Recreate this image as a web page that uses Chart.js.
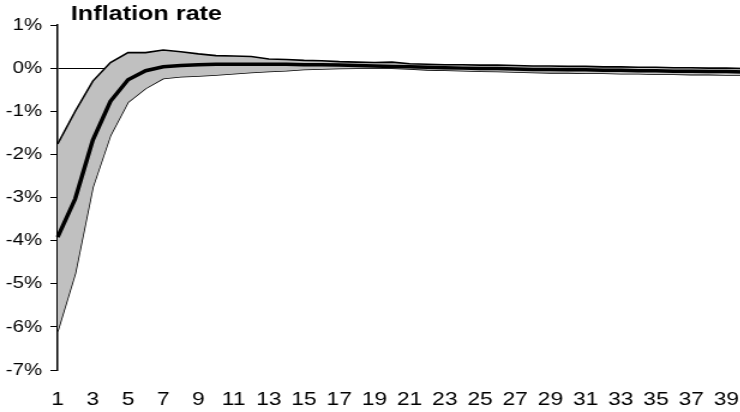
<!DOCTYPE html>
<html>
<head>
<meta charset="utf-8">
<script src="https://cdn.jsdelivr.net/npm/chart.js@4.4.1/dist/chart.umd.min.js"></script>
<style>
  html, body { margin: 0; padding: 0; background: #fff; overflow: hidden; width: 740px; height: 412px; }
  #wrap { width: 638px; height: 412px; transform: scaleX(1.2); transform-origin: 0 0; }
  canvas { display: block; }
</style>
</head>
<body>
<div id="wrap"><canvas id="chart" width="638" height="412"></canvas></div>
<script>
// Quarters after the shock
const periods = ['1','2','3','4','5','6','7','8','9','10','11','12','13','14','15','16','17','18','19','20',
                 '21','22','23','24','25','26','27','28','29','30','31','32','33','34','35','36','37','38','39','40'];

// Impulse response of inflation (percent) with its confidence band
const medianResponse = [-3.92, -3.03, -1.67, -0.77, -0.27, -0.06, 0.03, 0.06, 0.08, 0.09,
                         0.09, 0.09, 0.09, 0.09, 0.08, 0.08, 0.07, 0.06, 0.05, 0.04,
                         0.03, 0.02, 0.01, 0.00, -0.01, -0.01, -0.02, -0.03, -0.03, -0.04,
                        -0.04, -0.05, -0.05, -0.06, -0.06, -0.07, -0.07, -0.08, -0.08, -0.09];
const upperBand = [-1.76, -1.00, -0.30, 0.13, 0.36, 0.36, 0.42, 0.38, 0.33, 0.29,
                    0.28, 0.27, 0.21, 0.20, 0.18, 0.17, 0.15, 0.14, 0.13, 0.14,
                    0.10, 0.09, 0.08, 0.08, 0.07, 0.07, 0.06, 0.05, 0.05, 0.04,
                    0.04, 0.03, 0.03, 0.02, 0.02, 0.01, 0.01, 0.00, 0.00, -0.01];
const lowerBand = [-6.10, -4.76, -2.76, -1.56, -0.79, -0.47, -0.24, -0.20, -0.18, -0.16,
                   -0.13, -0.10, -0.08, -0.06, -0.03, -0.02, -0.01, 0.00, 0.00, 0.00,
                   -0.02, -0.04, -0.05, -0.06, -0.07, -0.08, -0.09, -0.10, -0.11, -0.11,
                   -0.12, -0.12, -0.13, -0.13, -0.14, -0.14, -0.15, -0.15, -0.16, -0.16];

const chartTitle = 'Inflation rate';
const FONT = '"Liberation Sans", Arial, Helvetica, sans-serif';

// Bold heading placed just right of the value axis
const titlePlugin = {
  id: 'headingText',
  afterDraw(chart) {
    const ctx = chart.ctx;
    ctx.save();
    ctx.font = 'bold 21px ' + FONT;
    ctx.fillStyle = '#000';
    ctx.textBaseline = 'alphabetic';
    ctx.textAlign = 'left';
    ctx.fillText(chartTitle, chart.chartArea.left + 11, 20);
    ctx.restore();
  }
};

new Chart(document.getElementById('chart'), {
  type: 'line',
  data: {
    labels: periods,
    datasets: [
      {
        label: 'Lower bound',
        data: lowerBand,
        borderColor: '#000',
        borderWidth: 1.6,
        pointRadius: 0,
        fill: false,
        tension: 0,
        order: 3
      },
      {
        label: 'Upper bound',
        data: upperBand,
        borderColor: '#000',
        borderWidth: 1.6,
        backgroundColor: '#C0C0C0',
        pointRadius: 0,
        fill: '-1',
        tension: 0,
        order: 2
      },
      {
        label: 'Median',
        data: medianResponse,
        borderColor: '#000',
        borderWidth: 3.5,
        pointRadius: 0,
        fill: false,
        tension: 0,
        order: 1
      }
    ]
  },
  options: {
    responsive: false,
    animation: false,
    devicePixelRatio: 1,
    layout: { padding: { top: 25, right: 2, bottom: 0, left: 0 } },
    plugins: {
      legend: { display: false },
      tooltip: { enabled: false },
      title: { display: false }
    },
    scales: {
      x: {
        type: 'category',
        offset: false,
        grid: { display: false, drawTicks: false },
        border: { display: false },
        ticks: {
          autoSkip: false,
          maxRotation: 0,
          minRotation: 0,
          color: '#000',
          padding: 18,
          font: { family: FONT, size: 19 },
          callback: (value, index) => (index % 2 === 0 ? periods[index] : '')
        },
        afterFit(scale) { scale.height = 42; }
      },
      y: {
        min: -7,
        max: 1,
        z: 1,
        ticks: {
          stepSize: 1,
          color: '#000',
          padding: 7,
          font: { family: FONT, size: 17 },
          callback: (v) => v + '%'
        },
        grid: {
          drawOnChartArea: true,
          drawTicks: true,
          tickLength: 6,
          tickColor: '#000',
          lineWidth: 1,
          color: (ctx) => (ctx.tick && ctx.tick.value === 0 ? '#000' : 'rgba(0,0,0,0)')
        },
        border: { display: true, color: '#000', width: 1.5 },
        afterFit(scale) { scale.width = 48; }
      }
    }
  },
  plugins: [titlePlugin]
});
</script>
</body>
</html>
